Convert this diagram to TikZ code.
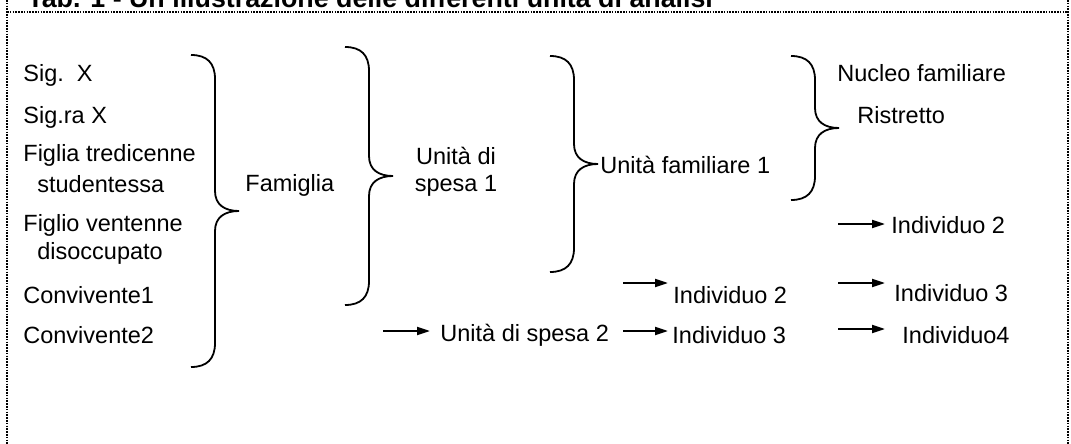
\documentclass[tikz,border=0pt]{standalone}
\usepackage{fontspec}
\setmainfont{Liberation Sans}
\usetikzlibrary{arrows.meta,calc}

\begin{document}
\begin{tikzpicture}[x=0.5pt,y=-0.5pt,
        every node/.style={inner sep=0pt,anchor=west,font=\fontsize{11.75}{13.5}\selectfont},
        brc/.style={line width=0.9pt,to path={let \p1=(\tikztostart),\p2=(\tikztotarget),\n1={0.5*(\y1+\y2)} in
            (\p1) .. controls +(8pt,0pt) and +(0pt,8pt) .. (\x1+12pt,\y1-12pt)
            -- (\x1+12pt,\n1+10pt) .. controls +(0pt,-7pt) and +(-7pt,0pt) .. (\x1+24pt,\n1+0pt)
            .. controls +(-7pt,0pt) and +(0pt,7pt) .. (\x1+12pt,\n1-10pt)
            -- (\x1+12pt,\y2+12pt) .. controls +(0pt,-8pt) and +(8pt,0pt) .. (\p2)}},
        arr/.style={line width=1pt,-{Triangle[length=6.5pt,width=4pt]}},
        frame/.style={line width=0.6pt,dash pattern=on 0.8pt off 0.6pt}]
        \useasboundingbox (0,0) rectangle (1071,444);
        \clip (0,0) rectangle (1071,444);
        \draw[frame] (7,0) -- (7,444);
        \draw[frame] (1068,0) -- (1068,444);
        \draw[frame] (7,12) -- (1068,12);
        \node[anchor=base west,font=\fontsize{13.4}{15}\selectfont\bfseries] (title) at (27,7.5) {Tab. 1 - Un'illustrazione delle differenti unità di analisi};

        \node (sigx) at (23,75) {Sig.\ \ X};
        \node (sigra) at (23,117) {Sig.ra X};
        \node (figlia) at (23,155) {Figlia tredicenne};
        \node (stud) at (37,184) {studentessa};
        \node (figlio) at (23,225) {Figlio ventenne};
        \node (disocc) at (37,253) {disoccupato};
        \node (conv1) at (23,295) {Convivente1};
        \node (conv2) at (23,335) {Convivente2};
        \node (fam) at (245,185) {Famiglia};
        \node[anchor=center,align=center] (us1) at (456,171.5) {Unità di\\spesa 1};
        \node (uf1) at (600,165) {Unità familiare 1};
        \node (nucleo) at (837,73) {Nucleo familiare};
        \node (ristr) at (857,115) {Ristretto};
        \node (ind2a) at (891,225) {Individuo 2};
        \node (ind2b) at (673,295) {Individuo 2};
        \node (ind3a) at (894,293) {Individuo 3};
        \node (us2) at (440,335) {Unità di spesa 2};
        \node (ind3b) at (672,335) {Individuo 3};
        \node (ind4) at (902,335) {Individuo4};

        \coordinate (b1t) at (191,55);
        \coordinate (b1b) at (191,367);
        \coordinate (b2t) at (345,47);
        \coordinate (b2b) at (345,305);
        \coordinate (b3t) at (550,56);
        \coordinate (b3b) at (550,272);
        \coordinate (b4t) at (791,56);
        \coordinate (b4b) at (791,200);
        \draw[brc] (b1t) to (b1b);
        \draw[brc] (b2t) to (b2b);
        \draw[brc] (b3t) to (b3b);
        \draw[brc] (b4t) to (b4b);

        \coordinate (t1) at (838,224);
        \coordinate (t2) at (623,283);
        \coordinate (t3) at (838,283);
        \coordinate (t4) at (383,331);
        \coordinate (t5) at (623,331);
        \coordinate (t6) at (838,329);
        \draw[arr,shorten >=3pt] (t1) -- (t1 -| ind2a.west);
        \draw[arr,shorten >=2.5pt] (t2) -- (t2 -| ind2b.west);
        \draw[arr,shorten >=4.5pt] (t3) -- (t3 -| ind3a.west);
        \draw[arr,shorten >=5pt] (t4) -- (t4 -| us2.west);
        \draw[arr,shorten >=2pt] (t5) -- (t5 -| ind3b.west);
        \draw[arr,shorten >=8.5pt] (t6) -- (t6 -| ind4.west);
    \end{tikzpicture}
\end{document}
